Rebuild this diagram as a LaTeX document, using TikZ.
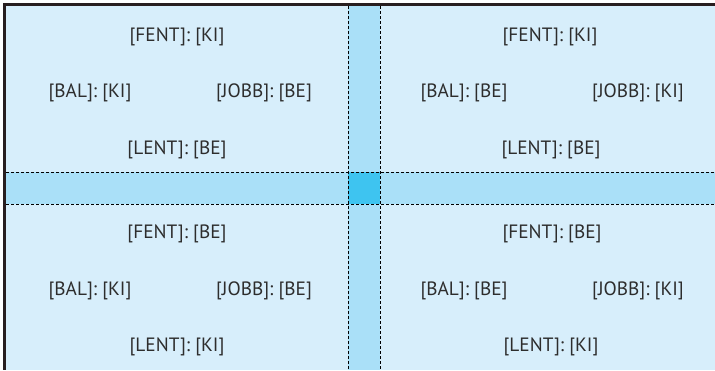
\documentclass[tikz,border=0pt]{standalone}
\usepackage{fontspec}
\setmainfont{PT Sans}
\usepackage{tikz}
\definecolor{paleblue}{RGB}{215,238,251}
\definecolor{bandblue}{RGB}{170,224,248}
\definecolor{coreblue}{RGB}{62,196,240}
\definecolor{framedark}{RGB}{40,30,32}
\definecolor{labelgray}{RGB}{45,45,45}

\begin{document}
\begin{tikzpicture}[x=1pt, y=-1pt,
        lbl/.style = {inner sep=0pt, yshift=-1.5pt, text=labelgray, font=\fontsize{19.3}{23}\selectfont},
        cut/.style = {dash pattern=on 3pt off 2pt, line width=.8pt}]
        \useasboundingbox (0,0) rectangle (715,370);
        \fill[paleblue] (6,6) rectangle (715,370);
        \fill[bandblue] (348,6) rectangle (380,370);
        \fill[bandblue] (6,172) rectangle (715,204);
        \fill[coreblue] (348,172) rectangle (380,204);
        \draw[cut] (348,6) -- (348,370);
        \draw[cut] (380,6) -- (380,370);
        \draw[cut] (6,172) -- (715,172);
        \draw[cut] (6,204) -- (715,204);
        \draw[framedark, line width=3pt] (715,4.5) -- (4.5,4.5) -- (4.5,370);
        % felso bal
        \node[lbl] (tlFent) at (177,35) {[FENT]: [KI]};
        \node[lbl] (tlBal) at (90,91) {[BAL]: [KI]};
        \node[lbl] (tlJobb) at (264,91) {[JOBB]: [BE]};
        \node[lbl] (tlLent) at (177,148) {[LENT]: [BE]};
        % felso jobb
        \node[lbl] (trFent) at (550,35) {[FENT]: [KI]};
        \node[lbl] (trBal) at (464,91) {[BAL]: [BE]};
        \node[lbl] (trJobb) at (638,91) {[JOBB]: [KI]};
        \node[lbl] (trLent) at (551,148) {[LENT]: [BE]};
        % also bal
        \node[lbl] (blFent) at (177,232) {[FENT]: [BE]};
        \node[lbl] (blBal) at (90,289) {[BAL]: [KI]};
        \node[lbl] (blJobb) at (264,289) {[JOBB]: [BE]};
        \node[lbl] (blLent) at (177,345) {[LENT]: [KI]};
        % also jobb
        \node[lbl] (brFent) at (552,232) {[FENT]: [BE]};
        \node[lbl] (brBal) at (464,289) {[BAL]: [BE]};
        \node[lbl] (brJobb) at (638,289) {[JOBB]: [KI]};
        \node[lbl] (brLent) at (551,345) {[LENT]: [KI]};
      \end{tikzpicture}
\end{document}
